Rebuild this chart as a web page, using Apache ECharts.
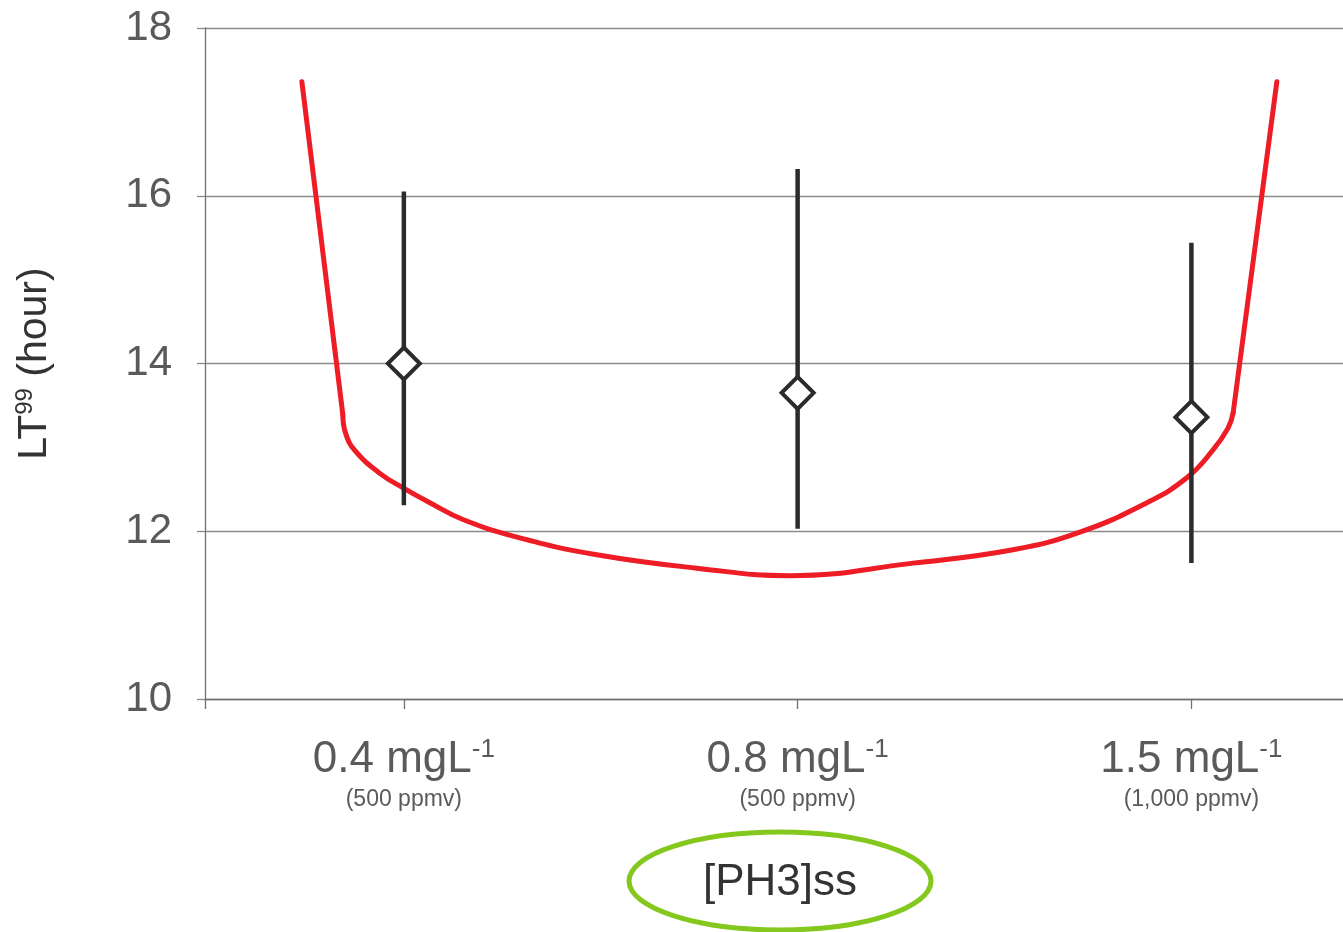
<!DOCTYPE html>
<html>
<head>
<meta charset="utf-8">
<script src="https://cdn.jsdelivr.net/npm/echarts@6/dist/echarts.min.js"></script>
<style>
html,body{margin:0;padding:0;background:#fff;}
#chart{width:1343px;height:932px;}
</style>
</head>
<body>
<div id="chart"></div>
<script>
// ---- data ----
var concLabels = ['0.4 mgL', '0.8 mgL', '1.5 mgL'];
var ppmvLabels = ['(500 ppmv)', '(500 ppmv)', '(1,000 ppmv)'];
var catPos = [1, 2, 3];
var meanLT = [14.0, 13.65, 13.36];
var lowLT = [12.31, 12.03, 11.62];
var highLT = [16.05, 16.32, 15.44];
// red model curve: first and last points are the ends of the two straight arms
var curveX = [0.741, 0.845, 0.852, 0.876, 0.939, 0.997, 1.066, 1.150, 1.287, 1.490, 1.744, 1.980, 2.293, 2.547, 2.717, 2.887, 2.989, 3.055, 3.093, 3.106, 3.217];
var curveY = [17.36, 13.39, 13.17, 12.96, 12.69, 12.52, 12.34, 12.14, 11.93, 11.72, 11.56, 11.47, 11.62, 11.78, 11.99, 12.34, 12.64, 12.97, 13.23, 13.41, 17.36];
var yTicks = [10, 12, 14, 16, 18];
var xTitle = '[PH3]ss';

// ---- build ----
var curveData = curveX.map(function (x, i) { return [x, curveY[i]]; });
var n = curveData.length;
var leftArm = curveData.slice(0, 2);
var bottomPart = curveData.slice(1, n - 1);
var rightArm = curveData.slice(n - 2);
var pointData = catPos.map(function (x, i) { return [x, meanLT[i]]; });
var barData = catPos.map(function (x, i) { return [x, lowLT[i], highLT[i]]; });

var chart = echarts.init(document.getElementById('chart'), null, {renderer: 'canvas'});
var FONT = '"Liberation Sans", Arial, sans-serif';
var redStyle = {color: '#ee1c25', width: 5, join: 'round', cap: 'round'};

chart.setOption({
  animation: false,
  backgroundColor: '#fff',
  grid: {left: 205, right: 0, top: 28, bottom: 233, outerBoundsMode: 'none', containLabel: false},
  xAxis: {
    type: 'value',
    min: 0.495,
    max: 3.385,
    axisLine: {show: true, onZero: false, lineStyle: {color: '#707070', width: 1.3}},
    axisTick: {show: true, customValues: [0.495, 1, 2, 3], length: 10, lineStyle: {color: '#707070', width: 1.3}},
    splitLine: {show: false},
    axisLabel: {
      customValues: catPos,
      margin: 38,
      fontFamily: FONT,
      formatter: function (v) {
        var i = catPos.indexOf(Math.round(v));
        return '{a|' + concLabels[i] + '}{s|-1}\n{b|' + ppmvLabels[i] + '}';
      },
      rich: {
        a: {fontSize: 44, color: '#5a5a5c', fontFamily: FONT, lineHeight: 46},
        s: {fontSize: 26, color: '#5a5a5c', fontFamily: FONT, verticalAlign: 'top', lineHeight: 26},
        b: {fontSize: 23, color: '#5a5a5c', fontFamily: FONT, lineHeight: 28, verticalAlign: 'bottom'}
      }
    }
  },
  yAxis: {
    type: 'value',
    min: 10,
    max: 18,
    interval: 2,
    axisLine: {show: true, lineStyle: {color: '#707070', width: 1.3}},
    axisTick: {show: true, length: 8, lineStyle: {color: '#888', width: 1.3}},
    splitLine: {show: true, lineStyle: {color: '#8a8a8a', width: 1.3}},
    axisLabel: {
      fontSize: 42, color: '#5a5a5c', fontFamily: FONT, margin: 33,
      formatter: function (v) { return yTicks.indexOf(v) >= 0 ? String(v) : ''; }
    },
    name: '{n|LT}{s|99}{n| (hour)}',
    nameLocation: 'middle',
    nameGap: 148,
    nameRotate: 90,
    nameTextStyle: {
      fontFamily: FONT,
      rich: {
        n: {fontSize: 41, color: '#333', fontFamily: FONT, lineHeight: 44},
        s: {fontSize: 24, color: '#333', fontFamily: FONT, verticalAlign: 'top', lineHeight: 24}
      }
    }
  },
  series: [
    {type: 'line', data: leftArm, smooth: false, showSymbol: false, lineStyle: redStyle, z: 2},
    {type: 'line', data: bottomPart, smooth: 0.45, showSymbol: false, lineStyle: redStyle, z: 2},
    {type: 'line', data: rightArm, smooth: false, showSymbol: false, lineStyle: redStyle, z: 2},
    {
      type: 'custom',
      data: barData,
      z: 3,
      renderItem: function (params, api) {
        var p1 = api.coord([api.value(0), api.value(1)]);
        var p2 = api.coord([api.value(0), api.value(2)]);
        return {
          type: 'line',
          shape: {x1: p1[0], y1: p1[1], x2: p2[0], y2: p2[1]},
          style: {stroke: '#2b2b2b', lineWidth: 4.5}
        };
      }
    },
    {
      type: 'scatter',
      data: pointData,
      symbol: 'diamond',
      symbolSize: [32, 32],
      itemStyle: {color: '#ffffff', borderColor: '#2b2b2b', borderWidth: 4, opacity: 1},
      z: 4
    }
  ],
  graphic: [
    {
      type: 'ellipse',
      shape: {cx: 780, cy: 881, rx: 151, ry: 49},
      style: {fill: 'none', stroke: '#84c81e', lineWidth: 5},
      z: 10
    },
    {
      type: 'text',
      x: 780, y: 883,
      style: {text: xTitle, fontSize: 44, fontFamily: FONT, fill: '#333', align: 'center', verticalAlign: 'middle'},
      z: 11
    }
  ]
});
</script>
</body>
</html>
